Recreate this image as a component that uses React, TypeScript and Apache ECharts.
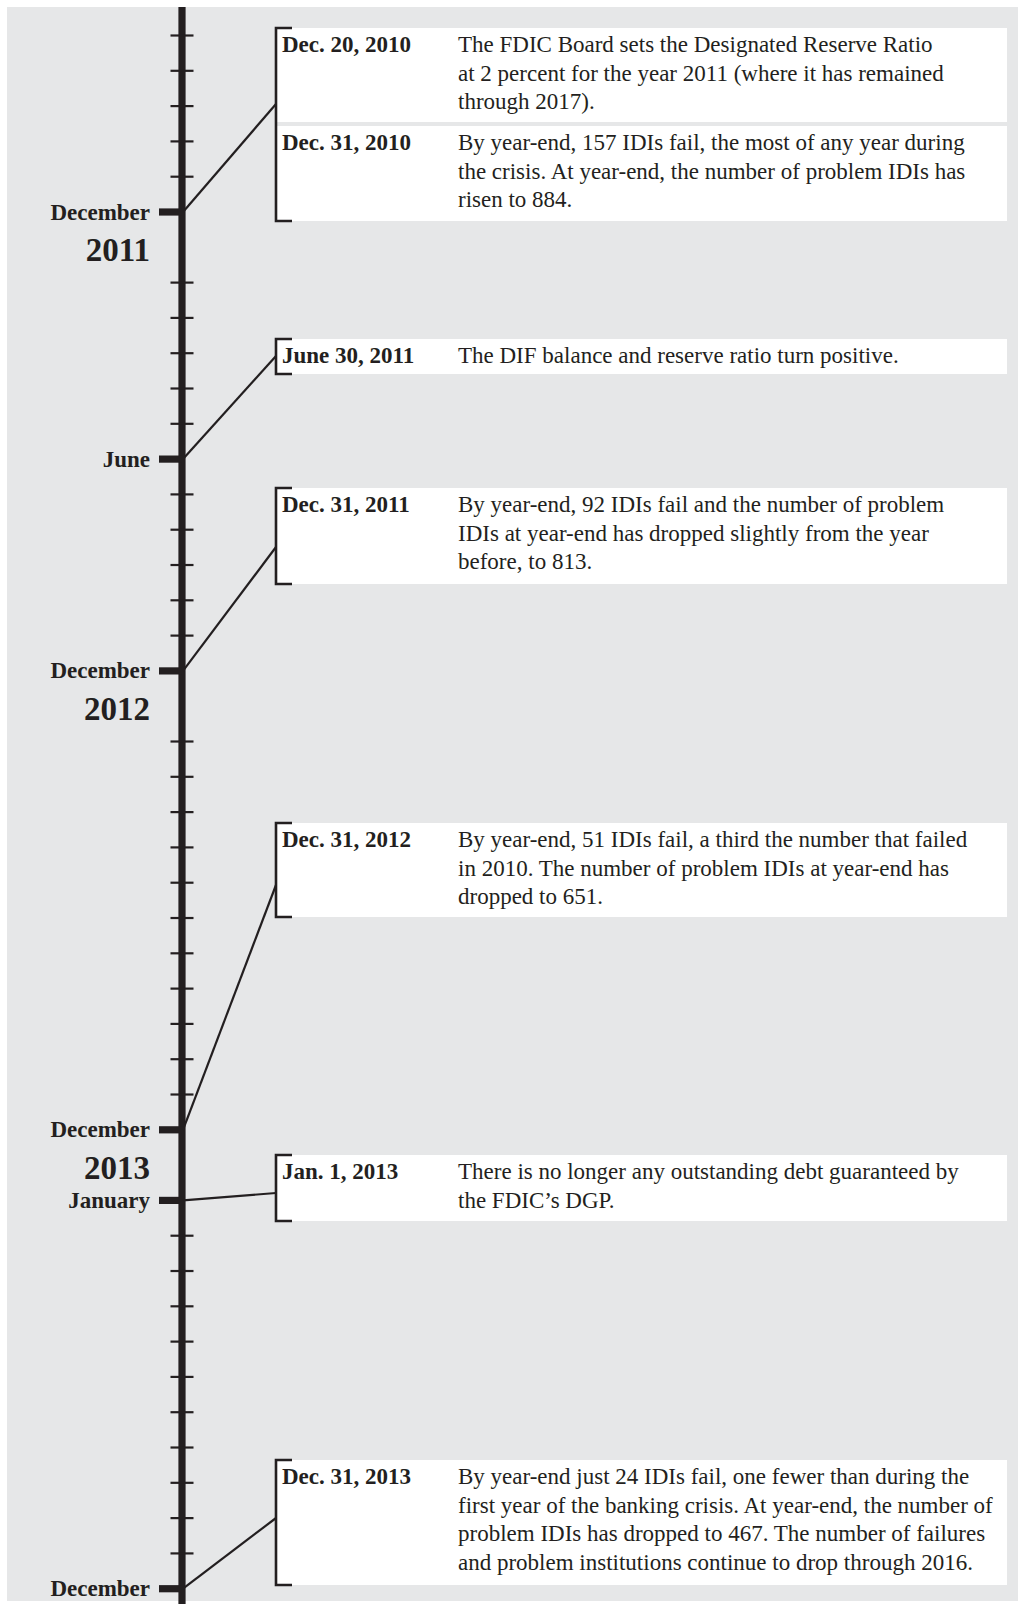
import React, { useEffect, useRef } from "react";
import * as echarts from "echarts";

// ---- data ----
const minorTickSlots = [
  0, 1, 2, 3, 4,
  7, 8, 9, 10, 11,
  13, 14, 15, 16, 17,
  20, 21, 22, 23, 24, 25, 26, 27, 28, 29, 30,
  34, 35, 36, 37, 38, 39, 40, 41, 42, 43,
];
const monthLabelSlots = [5, 12, 18, 31, 33, 44];
const monthLabels = ["December", "June", "December", "December", "January", "December"];
const yearLabelSlots = [6, 19, 32];
const yearLabels = ["2011", "2012", "2013"];

const eventDates = [
  "Dec. 20, 2010",
  "Dec. 31, 2010",
  "June 30, 2011",
  "Dec. 31, 2011",
  "Dec. 31, 2012",
  "Jan. 1, 2013",
  "Dec. 31, 2013",
];
const eventSlots = [5, 5, 12, 18, 31, 33, 44];
const eventTexts = [
  "The FDIC Board sets the Designated Reserve Ratio\nat 2 percent for the year 2011 (where it has remained\nthrough 2017).",
  "By year-end, 157 IDIs fail, the most of any year during\nthe crisis. At year-end, the number of problem IDIs has\nrisen to 884.",
  "The DIF balance and reserve ratio turn positive.",
  "By year-end, 92 IDIs fail and the number of problem\nIDIs at year-end has dropped slightly from the year\nbefore, to 813.",
  "By year-end, 51 IDIs fail, a third the number that failed\nin 2010. The number of problem IDIs at year-end has\ndropped to 651.",
  "There is no longer any outstanding debt guaranteed by\nthe FDIC\u2019s DGP.",
  "By year-end just 24 IDIs fail, one fewer than during the\nfirst year of the banking crisis. At year-end, the number of\nproblem IDIs has dropped to 467. The number of failures\nand problem institutions continue to drop through 2016.",
];

// ---- layout (pixels) ----
const W = 1022;
const H = 1604;
const AXIS_X = 182;
const BRACKET_X = 276;
const BOX_RIGHT = 1007;
const DATE_X = 282;
const DESC_X = 458;
const LABEL_RIGHT = 150;
const boxExtents = [
  [28, 122],
  [126, 221],
  [339, 374],
  [488, 584],
  [823, 917],
  [1155, 1221],
  [1460, 1585],
];
const bracketGroups = [
  { events: [0, 1], top: 28, bottom: 221, hook: 104 },
  { events: [2], top: 339, bottom: 374, hook: 356 },
  { events: [3], top: 488, bottom: 584, hook: 547 },
  { events: [4], top: 823, bottom: 917, hook: 885 },
  { events: [5], top: 1155, bottom: 1221, hook: 1193 },
  { events: [6], top: 1460, bottom: 1585, hook: 1518 },
];

const INK = "#231f20";
const BG = "#e6e7e8";
const FONT = "'Liberation Serif', 'Times New Roman', serif";

export default function App() {
  const ref = useRef<HTMLDivElement>(null);

  useEffect(() => {
    document.body.style.margin = "0";
    document.body.style.overflow = "hidden";
    if (!ref.current) return;
    const chart = echarts.init(ref.current, undefined, { renderer: "svg" });

    const option: any = {
      animation: false,
      backgroundColor: "#ffffff",
      grid: { left: 0, right: 0, top: 0, bottom: 0 },
      xAxis: { type: "value", min: 0, max: W, show: false },
      yAxis: { type: "value", min: -1.0057, max: 44.433, inverse: true, show: false },
      graphic: [
        {
          type: "rect",
          z: -10,
          silent: true,
          shape: { x: 7, y: 7, width: 1011, height: 1594 },
          style: { fill: BG },
        },
      ],
      series: [
        // spine
        {
          type: "custom",
          silent: true,
          clip: false,
          z: 3,
          data: [[AXIS_X, 0]],
          renderItem: (params: any, api: any) => {
            const x = api.coord([api.value(0), api.value(1)])[0];
            return {
              type: "rect",
              shape: { x: x - 3.6, y: 7, width: 7.2, height: H - 7 },
              style: { fill: INK },
            };
          },
        },
        // minor ticks
        {
          type: "custom",
          silent: true,
          clip: false,
          z: 3,
          data: minorTickSlots.map((s) => [AXIS_X, s]),
          renderItem: (params: any, api: any) => {
            const p = api.coord([api.value(0), api.value(1)]);
            return {
              type: "rect",
              shape: { x: p[0] - 11.5, y: p[1] - 1.1, width: 23, height: 2.2 },
              style: { fill: INK },
            };
          },
        },
        // major ticks + month labels
        {
          type: "custom",
          silent: true,
          clip: false,
          z: 3,
          data: monthLabelSlots.map((s) => [AXIS_X, s]),
          renderItem: (params: any, api: any) => {
            const p = api.coord([api.value(0), api.value(1)]);
            return {
              type: "group",
              children: [
                {
                  type: "rect",
                  shape: { x: 159, y: p[1] - 3.6, width: p[0] - 159, height: 7.2 },
                  style: { fill: INK },
                },
                {
                  type: "text",
                  style: {
                    text: monthLabels[params.dataIndex],
                    x: LABEL_RIGHT,
                    y: p[1],
                    align: "right",
                    verticalAlign: "middle",
                    fontFamily: FONT,
                    fontWeight: "bold",
                    fontSize: 23,
                    fill: INK,
                  },
                },
              ],
            };
          },
        },
        // year labels
        {
          type: "custom",
          silent: true,
          clip: false,
          z: 3,
          data: yearLabelSlots.map((s) => [AXIS_X, s]),
          renderItem: (params: any, api: any) => {
            const p = api.coord([api.value(0), api.value(1)]);
            return {
              type: "text",
              style: {
                text: yearLabels[params.dataIndex],
                x: LABEL_RIGHT,
                y: p[1] + 3,
                align: "right",
                verticalAlign: "middle",
                fontFamily: FONT,
                fontWeight: "bold",
                fontSize: 33,
                fill: INK,
              },
            };
          },
        },
        // events: boxes, brackets, connectors
        {
          type: "custom",
          silent: true,
          clip: false,
          z: 4,
          data: bracketGroups.map((g) => [AXIS_X, eventSlots[g.events[0]]]),
          renderItem: (params: any, api: any) => {
            const g = bracketGroups[params.dataIndex];
            const p = api.coord([api.value(0), api.value(1)]);
            const children: any[] = [];
            g.events.forEach((ei) => {
              const [t, b] = boxExtents[ei];
              children.push({
                type: "rect",
                shape: { x: BRACKET_X, y: t, width: BOX_RIGHT - BRACKET_X, height: b - t },
                style: { fill: "#ffffff" },
              });
              children.push({
                type: "text",
                style: {
                  text: eventDates[ei],
                  x: DATE_X,
                  y: t + 2.5,
                  align: "left",
                  verticalAlign: "top",
                  lineHeight: 28.5,
                  fontFamily: FONT,
                  fontWeight: "bold",
                  fontSize: 23,
                  fill: INK,
                },
              });
              children.push({
                type: "text",
                style: {
                  text: eventTexts[ei],
                  x: DESC_X,
                  y: t + 2.5,
                  align: "left",
                  verticalAlign: "top",
                  lineHeight: 28.5,
                  fontFamily: FONT,
                  fontSize: 23,
                  fill: INK,
                },
              });
            });
            children.push({
              type: "line",
              shape: { x1: p[0] + 1, y1: p[1], x2: BRACKET_X, y2: g.hook },
              style: { stroke: INK, lineWidth: 2.2 },
            });
            children.push({
              type: "polyline",
              shape: {
                points: [
                  [BRACKET_X + 16, g.top],
                  [BRACKET_X, g.top],
                  [BRACKET_X, g.bottom],
                  [BRACKET_X + 16, g.bottom],
                ],
              },
              style: { stroke: INK, lineWidth: 2.6, fill: null },
            });
            return { type: "group", children };
          },
        },
      ],
    };

    chart.setOption(option);
    return () => chart.dispose();
  }, []);

  return <div ref={ref} style={{ width: W, height: H }} />;
}
